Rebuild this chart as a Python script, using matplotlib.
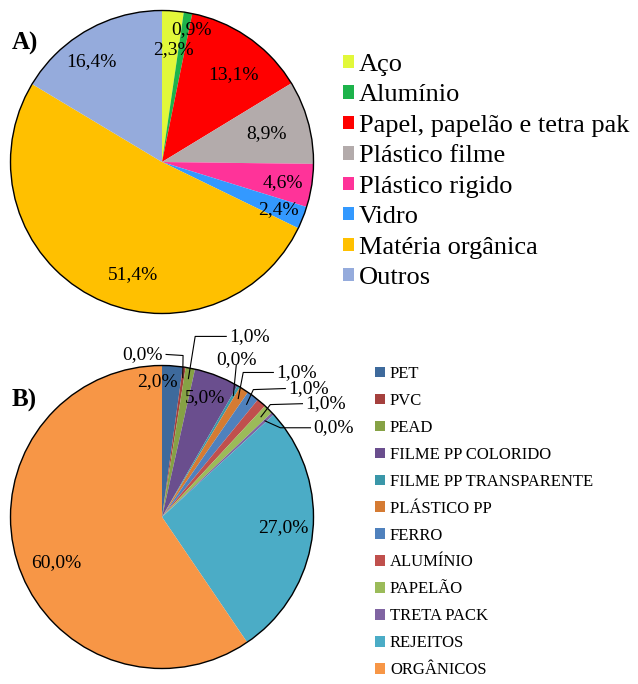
import numpy as np
import matplotlib.pyplot as plt
from matplotlib.patches import Circle

plt.rcParams['font.family'] = ['Liberation Serif', 'DejaVu Serif']

# --- chart A data ---
a_names = ['Aço', 'Alumínio', 'Papel, papelão e tetra pak', 'Plástico filme',
           'Plástico rigido', 'Vidro', 'Matéria orgânica', 'Outros']
a_values = [2.3, 0.9, 13.1, 8.9, 4.6, 2.4, 51.4, 16.4]
a_colors = ['#E2F83A', '#1DB34B', '#FF0000', '#B3ABAB',
            '#FF3399', '#3399FF', '#FFC000', '#95ABDC']

# --- chart B data ---
b_names = ['PET', 'PVC', 'PEAD', 'FILME PP COLORIDO', 'FILME PP TRANSPARENTE',
           'PLÁSTICO PP', 'FERRO', 'ALUMÍNIO', 'PAPELÃO', 'TRETA PACK',
           'REJEITOS', 'ORGÂNICOS']
b_shares = [2.2, 0.3, 1.0, 4.8, 0.3, 1.0, 1.3, 1.0, 1.0, 0.3, 27.3, 59.5]
b_pct_text = ['2,0%', '0,0%', '1,0%', '5,0%', '0,0%', '1,0%', '1,0%', '',
              '1,0%', '0,0%', '27,0%', '60,0%']
b_colors = ['#3E6A9C', '#A5403D', '#86A245', '#6A4E8E', '#3A97A9', '#D57B33',
            '#4F81BD', '#C0504D', '#9BBB59', '#8064A2', '#4BACC6', '#F79646']

# label placement (pie radius units)
a_label_xy = [(0.075, 0.739), (0.196, 0.876), (0.471, 0.574), (0.691, 0.189),
              (0.797, -0.137), (0.768, -0.317), (-0.189, -0.746), (-0.464, 0.662)]
b_inside = {0: (-0.033, 0.894), 3: (0.285, 0.788), 10: (0.80, -0.073), 11: (-0.695, -0.298)}
# index: (text x, text y, ha, elbow x, elbow y)
b_outside = {
    1: (0.007, 1.073, 'right', 0.139, 1.066),
    2: (0.444, 1.192, 'left', 0.219, 1.192),
    4: (0.49, 1.04, 'center', 0.49, 1.0),
    5: (0.755, 0.954, 'left', 0.536, 0.954),
    6: (0.834, 0.848, 'left', 0.603, 0.841),
    8: (0.947, 0.748, 'left', 0.715, 0.742),
    9: (1.0, 0.589, 'left', 0.781, 0.589),
}

fig = plt.figure(figsize=(6.38, 6.84), dpi=100)
W, H = 638, 684
R = 151.5


def pie_axes(cx, cy):
    half = 1.01 * R
    ax = fig.add_axes([(cx - half) / W, 1 - (cy + half) / H, 2 * half / W, 2 * half / H])
    return ax


def draw_pie(ax, values, colors):
    wedges, _ = ax.pie(values, colors=colors, startangle=90, counterclock=False,
                       radius=1, wedgeprops=dict(linewidth=0))
    ax.add_patch(Circle((0, 0), 1, fill=False, ec='black', lw=1.0))
    ax.set_xlim(-1.01, 1.01)
    ax.set_ylim(-1.01, 1.01)
    ax.set_aspect('equal')
    ax.axis('off')
    return wedges


# ---- A ----
axA = pie_axes(162, 162)
wA = draw_pie(axA, a_values, a_colors)
for v, (x, y) in zip(a_values, a_label_xy):
    axA.text(x, y, f'{v:.1f}%'.replace('.', ','), ha='center', va='center', fontsize=14)

fig.text(12 / W, 1 - 50 / H, 'A)', fontsize=18, fontweight='bold', ha='left', va='baseline')
fig.legend(wA, a_names, loc='upper left', bbox_to_anchor=(343 / W, 1 - 54 / H),
           frameon=False, fontsize=19, handlelength=0.4, handleheight=0.4,
           handletextpad=0.2, labelspacing=0.32, borderpad=0, borderaxespad=0)

# ---- B ----
axB = pie_axes(162, 517)
wB = draw_pie(axB, b_shares, b_colors)
total = sum(b_shares)
cum = np.cumsum([0] + b_shares[:-1])
for i in range(len(b_shares)):
    theta = np.deg2rad(90 - 360 * (cum[i] + b_shares[i] / 2) / total)
    if i in b_inside:
        x, y = b_inside[i]
        axB.text(x, y, b_pct_text[i], ha='center', va='center', fontsize=14)
    elif i in b_outside:
        tx, ty, ha, ex, ey = b_outside[i]
        px, py = 0.93 * np.cos(theta), 0.93 * np.sin(theta)
        if ha == 'right':
            sx = tx + 0.02
        elif ha == 'left':
            sx = tx - 0.02
        else:
            sx = tx
        sy = ty if ha != 'center' else ty - 0.04
        axB.plot([sx, ex, px], [sy, ey, py], color='black', lw=0.8, clip_on=False)
        axB.text(tx, ty, b_pct_text[i], ha=ha, va='center', fontsize=14)

fig.text(12 / W, 1 - 407 / H, 'B)', fontsize=18, fontweight='bold', ha='left', va='baseline')
fig.legend(wB, b_names, loc='upper left', bbox_to_anchor=(375 / W, 1 - 366 / H),
           frameon=False, fontsize=12, handlelength=0.6, handleheight=0.6,
           handletextpad=0.3, labelspacing=0.655, borderpad=0, borderaxespad=0)

fig.savefig('out.png', dpi=100)
